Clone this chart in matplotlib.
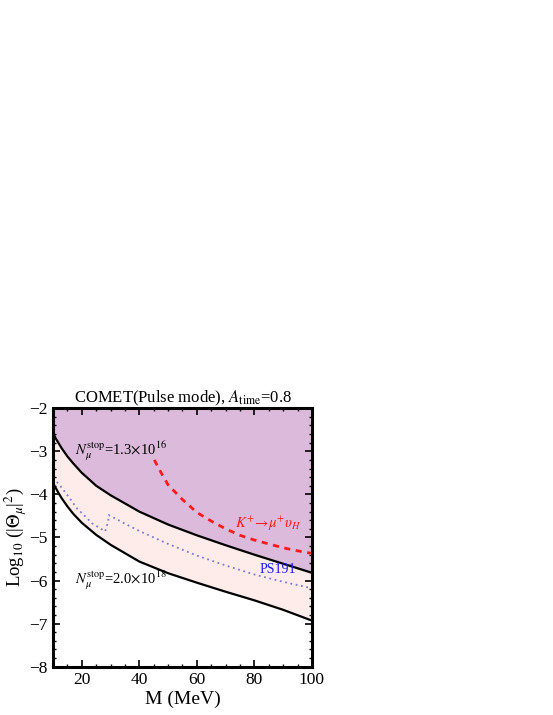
import matplotlib
matplotlib.use("Agg")
import matplotlib.pyplot as plt
from matplotlib.ticker import MultipleLocator

plt.rcParams["font.family"] = ["Liberation Serif", "DejaVu Serif"]
plt.rcParams["mathtext.fontset"] = "stix"

# N_mu^stop = 1.3e16 (upper black curve)
m_upper = [10, 11, 12, 13, 15, 17, 20, 25, 30, 40, 50, 60, 70, 80, 90, 100]
th_upper = [-2.58, -2.71, -2.82, -2.93, -3.12, -3.28, -3.50, -3.80, -4.02, -4.40, -4.70,
            -4.95, -5.18, -5.40, -5.61, -5.82]

# N_mu^stop = 2.0e18 (lower black curve)
m_lower = [10, 11, 12, 13, 15, 17, 20, 25, 30, 40, 50, 60, 70, 80, 90, 100]
th_lower = [-3.74, -3.86, -3.98, -4.09, -4.28, -4.45, -4.66, -4.94, -5.17, -5.56, -5.83,
            -6.05, -6.26, -6.46, -6.68, -6.93]

# K+ -> mu+ nu_H bound (red dashed)
m_kaon = [45.2, 48, 50, 55, 60, 65, 70, 75, 80, 85, 90, 95, 100]
th_kaon = [-3.20, -3.55, -3.78, -4.12, -4.42, -4.62, -4.80, -4.95, -5.06, -5.15, -5.24, -5.31, -5.37]

# PS191 bound (dotted)
m_ps191 = [10, 10.7, 12, 15, 18.8, 20, 23.5, 25, 28.1, 29.2, 29.3, 30, 35, 40, 50, 60, 70, 80, 90, 100]
th_ps191 = [-3.62, -3.67, -3.76, -4.02, -4.37, -4.43, -4.67, -4.73, -4.86, -4.62, -4.48,
            -4.50, -4.68, -4.85, -5.15, -5.42, -5.65, -5.86, -6.03, -6.18]

PURPLE = "#dcbadc"
PINK = "#feeceb"

fig = plt.figure(figsize=(5.53, 7.15), dpi=100)
ax = fig.add_axes([0.096, 0.0676, 0.468, 0.3614])

ax.fill_between(m_upper, th_upper, -2, color=PURPLE, lw=0)
ax.fill_between(m_upper, th_lower, th_upper, color=PINK, lw=0)
ax.plot(m_upper, th_upper, color="black", lw=1.6)
ax.plot(m_lower, th_lower, color="black", lw=1.6)
ax.plot(m_kaon, th_kaon, color="#ff1a1a", lw=2.0, ls=(0, (2.2, 2.0)))
ax.plot(m_ps191, th_ps191, color="#7a7ad0", lw=1.3, ls=(0, (1, 2)))

ax.set_xlim(10, 100)
ax.set_ylim(-8, -2)
ax.xaxis.set_major_locator(MultipleLocator(20))
ax.xaxis.set_minor_locator(MultipleLocator(5))
ax.yaxis.set_major_locator(MultipleLocator(1))
ax.yaxis.set_minor_locator(MultipleLocator(0.2))
ax.tick_params(which="both", direction="in", top=True, right=True, labelsize=12.5, pad=4)
ax.tick_params(which="major", length=5, width=1.2)
ax.tick_params(which="minor", length=2.5, width=1)
for s in ax.spines.values():
    s.set_linewidth(2.2)

ax.set_xlabel("M (MeV)", fontsize=14, labelpad=2)
ax.set_ylabel(r"Log$_{10}$ (|$\Theta_\mu$|$^2$)", fontsize=13.5, labelpad=0)
ax.set_title(r"COMET(Pulse mode), $A_{\rm time}$=0.8", fontsize=12, pad=4)

ax.text(17.6, -3.0, r"$N_\mu^{\rm stop}$=1.3$\times$10$^{16}$", fontsize=10.5, va="center")
ax.text(17.6, -6.0, r"$N_\mu^{\rm stop}$=2.0$\times$10$^{18}$", fontsize=10.5, va="center")
ax.text(73.4, -4.69, r"$K^{+}\!\rightarrow\!\mu^{+}\upsilon_H$", fontsize=10.5, color="#ff1a1a", va="center")
ax.text(81.8, -5.75, "PS191", fontsize=10, color="#1a1aff", va="center")

fig.savefig("out.png", dpi=100)
